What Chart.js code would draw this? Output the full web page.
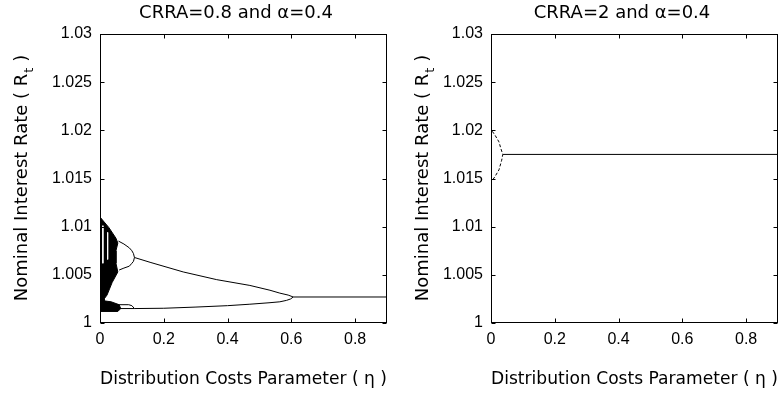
<!DOCTYPE html>
<html>
<head>
<meta charset="utf-8">
<script src="https://cdn.jsdelivr.net/npm/chart.js@4.4.1/dist/chart.umd.min.js"></script>
<style>
  html, body { margin: 0; padding: 0; background: #fff; }
  #wrap { position: relative; width: 784px; height: 395px; }
  canvas { position: absolute; top: 0; }
</style>
</head>
<body>
<div id="wrap">
  <canvas id="leftChart" width="392" height="395" style="left:0"></canvas>
  <canvas id="rightChart" width="392" height="395" style="left:392px"></canvas>
</div>
<script>
// Axis ticks (both panels)
const xTicks = [0, 0.2, 0.4, 0.6, 0.8];
const xTickLabels = ['0', '0.2', '0.4', '0.6', '0.8'];
const yTicks = [1, 1.005, 1.01, 1.015, 1.02, 1.025, 1.03];
const yTickLabels = ['1', '1.005', '1.01', '1.015', '1.02', '1.025', '1.03'];

// Left panel (CRRA=0.8): chaotic band outline near eta = 0
const chaosEta = [0, 0.003, 0.028, 0.050, 0.056, 0.050, 0.050, 0.056, 0.038, 0.022, 0.013, 0.013, 0.035, 0.060, 0.065, 0.056, 0];
const chaosR = [1.0110, 1.0110, 1.0099, 1.0088, 1.0083, 1.0075, 1.0062, 1.0053, 1.0042, 1.0029, 1.0025, 1.0023, 1.0022, 1.0019, 1.0015, 1.0012, 1.0012];
// periodic windows inside the band
const windowEta1 = [0.009, 0.009];
const windowR1 = [1.0101, 1.0062];
const windowEta2 = [0.024, 0.024];
const windowR2 = [1.0094, 1.0066];
// period-4 loop (upper)
const loopEta = [0.058, 0.075, 0.092, 0.100, 0.105, 0.108, 0.105, 0.100, 0.092, 0.075, 0.060];
const loopR = [1.0085, 1.0082, 1.0078, 1.0075, 1.0072, 1.0068, 1.0064, 1.0062, 1.0059, 1.0057, 1.0055];
// period-4 lower split
const lowSplitEta = [0.045, 0.090, 0.100, 0.108];
const lowSplitR = [1.0019, 1.0019, 1.0018, 1.0015];
// period-2 branches
const upperEta = [0.108, 0.157, 0.261, 0.366, 0.470, 0.533, 0.564, 0.590, 0.606];
const upperR = [1.0068, 1.0063, 1.0053, 1.0045, 1.0039, 1.0034, 1.0031, 1.0029, 1.0027];
const lowerEta = [0.045, 0.108, 0.200, 0.298, 0.400, 0.470, 0.530, 0.564, 0.585, 0.598, 0.606];
const lowerR = [1.0015, 1.0015, 1.00153, 1.00165, 1.0018, 1.00195, 1.0021, 1.0022, 1.00235, 1.0025, 1.0027];
// steady state
const steadyEta = [0.606, 0.9];
const steadyR = [1.0027, 1.0027];

// Right panel (CRRA=2)
const cycleEta = [0.004, 0.0125, 0.025, 0.031, 0.035, 0.037, 0.0335, 0.025, 0.0125, 0.004];
const cycleR = [1.0199, 1.0195, 1.0188, 1.0181, 1.0177, 1.0175, 1.0169, 1.0159, 1.0152, 1.0148];
const flatEta = [0.037, 0.9];
const flatR = [1.0175, 1.0175];

const pts = (xs, ys) => xs.map((x, i) => ({ x: x, y: ys[i] }));

const tickFont = { family: 'Liberation Sans, Arial', size: 16 };
const labelFont = { family: 'DejaVu Sans', size: 18 };

// box, inward ticks, title and y label with subscript
const panelPlugin = {
    id: 'panel',
    afterDraw(chart, args, opts) {
        const ctx = chart.ctx;
        const a = chart.chartArea;
        const xs = chart.scales.x, ys = chart.scales.y;
        const L = Math.round(a.left) + 0.5, R = Math.round(a.right) - 0.5;
        const T = Math.round(a.top) + 0.5, B = Math.round(a.bottom) - 0.5;
        ctx.save();
        ctx.strokeStyle = '#000';
        ctx.lineWidth = 1;
        ctx.strokeRect(L, T, R - L, B - T);
        ctx.beginPath();
        xTicks.forEach(v => {
            const px = Math.round(xs.getPixelForValue(v)) + 0.5;
            ctx.moveTo(px, B); ctx.lineTo(px, B - 4);
            ctx.moveTo(px, T); ctx.lineTo(px, T + 4);
        });
        yTicks.forEach(v => {
            const py = Math.round(ys.getPixelForValue(v)) + 0.5;
            ctx.moveTo(L, py); ctx.lineTo(L + 4, py);
            ctx.moveTo(R, py); ctx.lineTo(R - 4, py);
        });
        ctx.stroke();

        ctx.fillStyle = '#000';
        ctx.font = '18px "DejaVu Sans"';
        ctx.textAlign = 'center';
        ctx.textBaseline = 'middle';
        ctx.fillText(opts.title, opts.titleX, 13);

        // rotated y label with subscript t
        const main = 'Nominal Interest Rate ( R', sub = 't', tail = ' )';
        ctx.font = '18px "DejaVu Sans"';
        const w1 = ctx.measureText(main).width, w3 = ctx.measureText(tail).width;
        ctx.font = '13px "DejaVu Sans"';
        const w2 = ctx.measureText(sub).width;
        const total = w1 + w2 + w3;
        ctx.translate(opts.yLabelX, (a.top + a.bottom) / 2);
        ctx.rotate(-Math.PI / 2);
        ctx.textAlign = 'left';
        ctx.font = '18px "DejaVu Sans"';
        ctx.fillText(main, -total / 2, 0);
        ctx.font = '13px "DejaVu Sans"';
        ctx.fillText(sub, -total / 2 + w1 + 1, 7);
        ctx.font = '18px "DejaVu Sans"';
        ctx.fillText(tail, -total / 2 + w1 + w2 + 1, 0);
        ctx.restore();
    }
};

function line(xs, ys, color, dash) {
    return {
        data: pts(xs, ys),
        showLine: true,
        borderColor: color,
        borderWidth: 1,
        borderDash: dash || [],
        pointRadius: 0,
        fill: false
    };
}

function makeOptions(yWidth, rightPad, title, titleX, yLabelX) {
    return {
        responsive: false,
        animation: false,
        layout: { padding: { left: 0, right: rightPad, top: 34, bottom: 0 } },
        plugins: {
            legend: { display: false },
            tooltip: { enabled: false },
            panel: { title: title, titleX: titleX, yLabelX: yLabelX }
        },
        scales: {
            x: {
                type: 'linear', min: 0, max: 0.9,
                afterBuildTicks: s => { s.ticks = xTicks.map(v => ({ value: v })); },
                afterFit: s => { s.height = 72; },
                grid: { display: false, drawTicks: false },
                border: { display: false },
                ticks: { font: tickFont, color: '#000', padding: 7, maxRotation: 0, autoSkip: false,
                         callback: (v, i) => xTickLabels[i] },
                title: { display: true, text: 'Distribution Costs Parameter ( η )', font: labelFont,
                         color: '#000', padding: { top: 0, bottom: 5 } }
            },
            y: {
                type: 'linear', min: 1, max: 1.03,
                afterBuildTicks: s => { s.ticks = yTicks.map(v => ({ value: v })); },
                afterFit: s => { s.width = yWidth; },
                grid: { display: false, drawTicks: false },
                border: { display: false },
                ticks: { font: tickFont, color: '#000', padding: 8, autoSkip: false,
                         callback: (v, i) => yTickLabels[i] }
            }
        }
    };
}

const chaos = line(chaosEta, chaosR, '#000');
chaos.fill = 'shape';
chaos.backgroundColor = '#000';

new Chart(document.getElementById('leftChart'), {
    type: 'scatter',
    data: {
        datasets: [
            line(windowEta1, windowR1, '#fff'),
            line(windowEta2, windowR2, '#fff'),
            line(loopEta, loopR, '#000'),
            line(lowSplitEta, lowSplitR, '#000'),
            line(upperEta, upperR, '#000'),
            line(lowerEta, lowerR, '#000'),
            line(steadyEta, steadyR, '#000'),
            chaos
        ]
    },
    options: makeOptions(100, 5, 'CRRA=0.8 and α=0.4', 236, 22.5),
    plugins: [panelPlugin]
});

new Chart(document.getElementById('rightChart'), {
    type: 'scatter',
    data: {
        datasets: [
            line(cycleEta, cycleR, '#000', [3, 2]),
            line(flatEta, flatR, '#000')
        ]
    },
    options: makeOptions(99, 6, 'CRRA=2 and α=0.4', 230, 31.5),
    plugins: [panelPlugin]
});
</script>
</body>
</html>
